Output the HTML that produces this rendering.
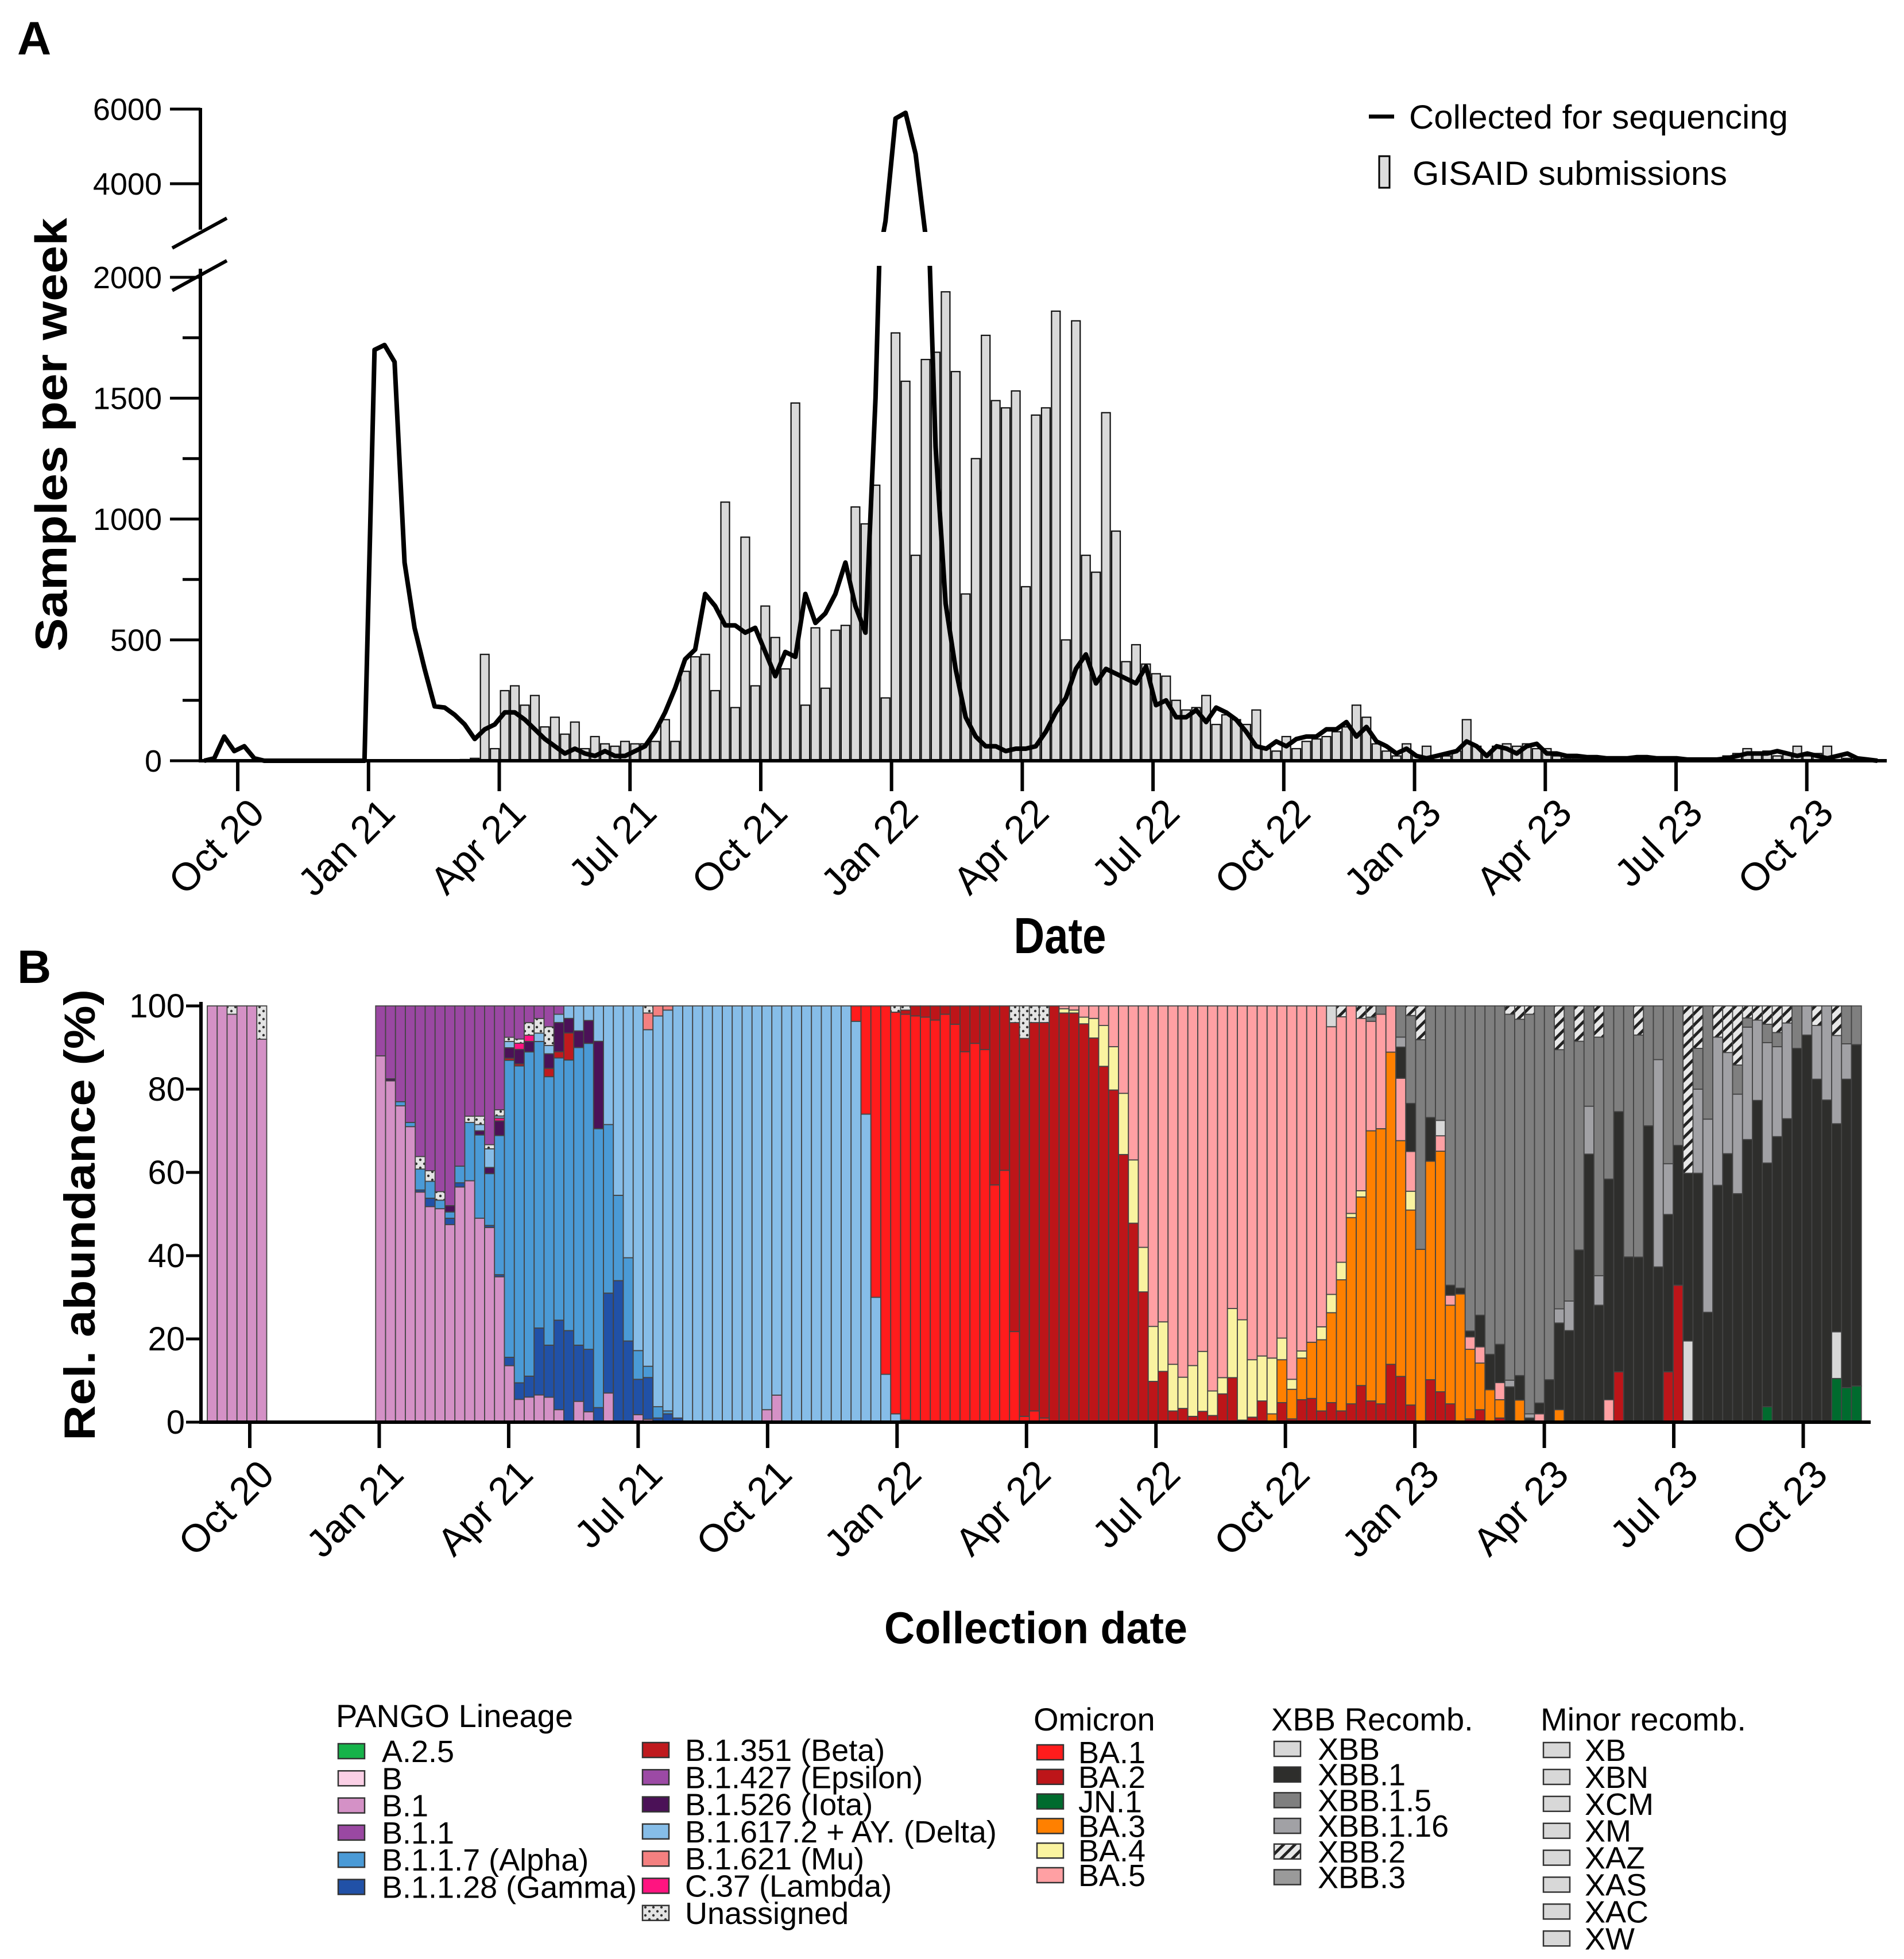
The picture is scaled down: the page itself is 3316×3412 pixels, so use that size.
<!DOCTYPE html>
<html><head><meta charset="utf-8"><style>
html,body{margin:0;padding:0;background:#fff}
svg{display:block;font-family:"Liberation Sans",Arial,sans-serif}
</style></head><body>
<svg id="fig" width="3316" height="3412" viewBox="0 0 3316 3412" xmlns="http://www.w3.org/2000/svg">
<defs>
<pattern id="dots" width="14" height="14" patternUnits="userSpaceOnUse"><rect width="14" height="14" fill="#e4e4e4"/><circle cx="4" cy="4" r="2.2" fill="#333"/><circle cx="11" cy="11" r="2.2" fill="#333"/></pattern>
<pattern id="hatch" width="14" height="14" patternUnits="userSpaceOnUse" patternTransform="rotate(45)"><rect width="14" height="14" fill="#e8e8e8"/><rect width="5" height="14" fill="#222"/></pattern>
<clipPath id="clipLow"><rect x="300" y="463" width="3050" height="900"/></clipPath>
<clipPath id="clipHigh"><rect x="300" y="100" width="3050" height="304"/></clipPath>
</defs>
<text x="30" y="95" font-size="82" font-weight="bold">A</text>
<text x="30" y="1712" font-size="82" font-weight="bold">B</text>
<g id="panelA"></g>
<g id="panelB"></g>
<g id="legendB"></g>
</svg>
<script>
// ---------- Panel A data ----------
const lineCollected = [0,10,100,40,60,10, 0,0,0,0,0,0,0,0,0,0,0,
1700,1720,1650,820,550,380,225,220,190,150,90,130,150,200,200,170,130,90,60,30,50,30,20,40,20,20,40,60,
120,200,300,420,460,690,640,560,560,530,550,450,350,450,430,690,570,610,690,820,
640,530,1500,3000,5750,5900,4800,2600,1300,650,380,180,100,60,60,40,
50,50,60,120,200,260,380,440,320,380,360,340,320,390,230,250,180,180,210,160,
220,200,170,120,60,50,80,60,90,100,100,130,130,160,100,140,80,60,30,50,
20,10,20,30,40,80,60,20,60,50,30,60,70,30,30,20,20,15,15,10,
10,10,15,15,10,10,10,5,5,5,5,10,20,30,30,30,40,30,20,30,20,10,20,30,10,5,0];
const barsGisaid = [0,0,0,0,0,0,0,0,0,0,0,0,0,0,0,0,0,0,0,0,0,0,0,0,0,0,
5,10,440,50,290,310,230,270,140,180,110,160,50,100,70,60,80,70,70,80,170,80,370,430,440,290,
1070,220,925,310,640,510,380,1480,230,550,300,540,560,1050,980,1140,260,1770,1570,850,
1660,1690,1940,1610,690,1250,1760,1490,1460,1530,720,1430,1460,1860,500,1820,850,780,1440,950,
410,480,400,360,350,250,210,220,270,150,190,170,150,210,50,40,100,50,80,90,
100,120,140,230,180,70,40,20,70,20,60,20,20,40,170,60,30,60,70,60,
70,50,50,20,10,10,10,10,10,10,10,10,10,5,5,5,5,5,5,10,20,30,50,30,40,20,30,60,20,30,60,20,10,5,5,0];
const yTicksLowA = [0,500,1000,1500,2000];
const yTicksHighA = [4000,6000];
const xTickLabels = ["Oct 20","Jan 21","Apr 21","Jul 21","Oct 21","Jan 22","Apr 22","Jul 22","Oct 22","Jan 23","Apr 23","Jul 23","Oct 23"];

// ---------- Panel B data (percent per week, start = first week index) ----------
const sB1=0;   const vB1=[100,100,98,100,100,92,0,0,0,0,0,0,0,0,0,0,0,88,82,76,71,55,51,50,47,56.5,58,49,47,35,13.5,5.5,6,6.5,6,3,0,5,2.5,0,7,0,0,1.7,0.7,0,0,0,0,0,0,0,0,0,0,0,3,6.5];
const sGam=21; const vGam=[0.5,2,0,1.5,1,0,0,0.5,0.5,2,4,5,16,12.5,21.5,22,13.5,15,3.5,24,34,19.5,8,10,1,2,1];
const sAlp=19; const vAlp=[1,1,5,4,2,1.5,4,14,20,12.5,33.5,71,76.5,77.5,68.5,64.5,63,65,71.5,73.5,67,40.5,20.5,20,6.5,2.7,2.7,0.7];
const sBet=30; const vBet=[0.5,0.5,0,0,2,1.5,6.5];
const sIot=18; const vIot=[0.5,0,0,0,0,0,1.5,0,0,1,1.5,3.5,2.5,3.5,2.5,0,3.5,7,3.5,4,5.5,21];
const sLam=29; const vLam=[0.7,0,1.5,1.5];
const sDel=27; const vDel=[1.5,4.5,0.5,1.5,0,0,2,2,2,3,6,3.5,8.5,28.5,45.5,60.5,78,80.7,93.5,96,99,100,100,100,100,100,100,100,100,97,93.5,100,100,100,100,100,100,100,96.3,74,30,11.5,2,0.5];
const sMu=43;  const vMu=[0,4,2.4,1];
const sBA1=65; const vBA1=[3.7,26,70,88.5,96.5,97.3,97.6,97.3,96.6,98,95.6,89,91,89.5,57,60.5,21.7,1.4,2.7,1];
const sBA2=70; const vBA2=[1,2.4,2.7,3.4,2,4.4,11,9,10.5,43,39.5,74,90.8,93.2,95,99,98.3,98.3,95.7,92.2,85.4,79.8,64.3,47.8,31.3,9.8,12.2,2.7,3.3,1.4,2.6,1.6,6.8,10.7,0.5,1.2,5.1,0,4.7,0.8,5.4,5.7,2.7,4.7,2.7,4.4,8.8,5.1,4.4,13.9,11,4.1,0,10.2,7.3,4.4,0,0.8,3,0,1,0,0,0,0,0,0,0,0,0,0,0,12.1,0,0,0,0,12.1,32.9];
const sBA3=107; const vBA3=[2,10.3,7.1,10,13.5,17.1,21.6,31.4,44.7,45.3,64.9,66.1,75,56.7,46.6,41.4,52.5,57.8,23.7,30.8,16.7,11.2,7.8,4.4,0,5.3,0,0,0,3];
const sBA4=86; const vBA4=[1,0.7,1.6,4.7,9.8,10.4,14.7,15.2,10.7,13.2,11.9,11.2,7.5,12.2,14.4,5.9,3.9,16.6,24.1,13.8,10.8,13.4,5.2,2.4,1.7,0,3.1,4.4,4.2,1,1.5,0,0,0,0,4.5];
const sBA5=86; const vBA5=[0.7,1,2.7,3,4.7,9.8,21,37,58,77,75.9,86.1,89.2,86.4,83,92.5,89.3,72.7,75.4,85,84.1,84.6,79.8,89.7,82.9,80.8,77.1,64.3,58.8,49.8,41.4,26.3,27.5,11.1,15,9.5,0,0,3.7,2.4,0,3,3.9,0,4.1,0,0,0,2,0,0,0,0,0,0,5.4];
const sJN1=157; const vJN1=[3.7,0,0,0,0,0,0,10.5,8.3,8.7];
const wXBB=[113,124,149,164]; const vXBB=[5,3.7,19.5,11.2];
const sXBB1=120; const vXBB1=[7.5,11.5,0,10.5,0,2.4,1.4,1.4,7.6,8.5,9.2,8.5,5.9,1,2.6,10.2,20.8,22,41.4,64.4,28.1,53,62.5,39.7,39.7,71.2,37.3,37.8,33.6,40.3,59.8,26.4,56.9,64.5,54.9,67.9,77.3,58.5,68.6,72.9,89.8,93,82.4,77.4,50,74.1,82];
const sX116=120; const vX116=[2.4,0,0,0,0,0,0,0,0,0,0,1.6,0,1,0,0,3.4,7.1,0,11.5,7.1,0,0,0,0,0,49.8,12.2,0,0,20.2,46.4,35.6,24.3,23.9,27,19.3,28.9,21.6,23,0,7,12.9,22.6,21.2,8.5,0];
const sX15=117; const vX15=[1,2,0,7.5,21,50.2,26.8,27.5,67.1,67.8,78.1,74.3,83.7,81.3,88,85.6,96,95.4,89.8,62.2,70.9,50.2,24.1,57.3,41.6,25.4,60.3,53.4,28.8,12.9,37.9,33.5,0,9.8,27.2,0,0,7,2.2,0,4.4,3.4,0,10.2,0,0,0,0,9.1,9.3];
const sX2=114; const vX2=[2.6,0,3,2.7,0,0,0,2.3,8.1,0,0,0,0,0,0,0,0,2,3.2,2,0,0,10.5,0,8.5,0,7.5,0,0,0,7,0,0,0,0,40.2,10.2,0,7.5,11.2,14.2,2.9,3.4,4.4,6.4,4.1,0,0,4.7,0,7.1];
const wUna=[2,5,21,22,23,26,27,28,29,30,31,32,33,34,44,69,70,81,82,83,84]; const vUna=[2,8,3,2.5,2,1.5,2,1,1.5,1,1,3,3.5,4.5,1.7,1.5,1,4,7.8,4,4];
const sB11=17; const vB11=[12,17.5,23,28,36,39,43.5,47.5,38.5,26.5,26.5,33.5,25,7.5,8,4,3,5,2];
const yTicksB = [0,20,40,60,80,100];

const NS="http://www.w3.org/2000/svg";
function mk(tag, attrs, parent, txt){const e=document.createElementNS(NS,tag);for(const k in attrs)e.setAttribute(k,attrs[k]);if(txt!==undefined)e.textContent=txt;parent.appendChild(e);return e;}
const A=document.getElementById('panelA'), Bp=document.getElementById('panelB'), L=document.getElementById('legendB');

// ---------- Panel A scales ----------
const xA=i=>355.6+17.45*i;
const yLow=v=>1325-v*0.421;
const yHigh=v=>320-(v-4000)*0.065;

barsGisaid.forEach((v,i)=>{ if(v<=0) return;
  const r=mk('rect',{x:xA(i)-7.5,y:yLow(v),width:15,height:v*0.421,fill:'#d9d9d9',stroke:'#111','stroke-width':2.2},A);
  
  
});
let dLow='',dHigh='';
lineCollected.forEach((v,i)=>{dLow+=(i?'L':'M')+xA(i).toFixed(1)+' '+yLow(v).toFixed(1);dHigh+=(i?'L':'M')+xA(i).toFixed(1)+' '+yHigh(v).toFixed(1);});
const pl=mk('path',{d:dLow,fill:'none',stroke:'#000','stroke-width':8,'stroke-linejoin':'round','clip-path':'url(#clipLow)'},A);


const ph=mk('path',{d:dHigh,fill:'none',stroke:'#000','stroke-width':8,'stroke-linejoin':'round','clip-path':'url(#clipHigh)'},A);



const ax=mk('g',{},A);  
mk('line',{x1:349,y1:188,x2:349,y2:400,stroke:'#000','stroke-width':6},ax);
mk('line',{x1:349,y1:468,x2:349,y2:1328,stroke:'#000','stroke-width':6},ax);
mk('line',{x1:300,y1:432,x2:395,y2:380,stroke:'#000','stroke-width':6},ax);
mk('line',{x1:300,y1:506,x2:395,y2:454,stroke:'#000','stroke-width':6},ax);
for(let v=250;v<2000;v+=500){mk('line',{x1:318,y1:yLow(v),x2:349,y2:yLow(v),stroke:'#000','stroke-width':5},ax);}
yTicksLowA.forEach(v=>{mk('line',{x1:296,y1:yLow(v),x2:349,y2:yLow(v),stroke:'#000','stroke-width':5},ax);
  const t=mk('text',{x:282,y:yLow(v)+19,'font-size':54,'text-anchor':'end'},ax,String(v));  });
yTicksHighA.forEach(v=>{mk('line',{x1:296,y1:yHigh(v),x2:349,y2:yHigh(v),stroke:'#000','stroke-width':5},ax);
  const t=mk('text',{x:282,y:yHigh(v)+19,'font-size':54,'text-anchor':'end'},ax,String(v));  });
const yt=mk('text',{transform:'translate(116,757) rotate(-90)','font-size':78,'font-weight':'bold','text-anchor':'middle',textLength:755,lengthAdjust:'spacingAndGlyphs'},A,'Samples per week');
 

const xa=mk('g',{},A);  
mk('line',{x1:346,y1:1325,x2:3286,y2:1325,stroke:'#000','stroke-width':6},xa);
xTickLabels.forEach((lab,k)=>{const x=xA(3.35+13.05*k);
  mk('line',{x1:x,y1:1325,x2:x,y2:1378,stroke:'#000','stroke-width':6},xa);
  const t=mk('text',{transform:`translate(${x+50},${1420}) rotate(-45)`,'font-size':68,'text-anchor':'end'},xa,lab);
   });
const xt=mk('text',{x:1846,y:1660,'font-size':88,'font-weight':'bold','text-anchor':'middle',textLength:161,lengthAdjust:'spacingAndGlyphs'},A,'Date');
 

const la=mk('g',{},A);  
mk('line',{x1:2384,y1:203,x2:2428,y2:203,stroke:'#000','stroke-width':7},la);
const l1=mk('text',{x:2454,y:224,'font-size':58,textLength:660,lengthAdjust:'spacingAndGlyphs'},la,'Collected for sequencing');
 
mk('rect',{x:2402,y:272,width:18,height:55,fill:'#ddd',stroke:'#000','stroke-width':3},la);
const l2=mk('text',{x:2460,y:322,'font-size':58,textLength:548,lengthAdjust:'spacingAndGlyphs'},la,'GISAID submissions');
 

// ---------- Panel B ----------
const xB=j=>361+17.25*j;
const yB=p=>2477-p*7.25;
const series=[
 {n:'B.1',c:'#d491c6',s:sB1,v:vB1},{n:'Gamma',c:'#2151a7',s:sGam,v:vGam},{n:'Alpha',c:'#4a9ad6',s:sAlp,v:vAlp},
 {n:'Beta',c:'#bf1a1e',s:sBet,v:vBet},{n:'Iota',c:'#4b1157',s:sIot,v:vIot},{n:'Lambda',c:'#ff1480',s:sLam,v:vLam},
 {n:'Delta',c:'#86bde8',s:sDel,v:vDel},{n:'Mu',c:'#f48080',s:sMu,v:vMu},{n:'BA.1',c:'#ff1c1c',s:sBA1,v:vBA1},
 {n:'BA.2',c:'#bd1519',s:sBA2,v:vBA2},{n:'BA.3',c:'#ff8000',s:sBA3,v:vBA3},{n:'BA.4',c:'#faf3a0',s:sBA4,v:vBA4},
 {n:'BA.5',c:'#ffa0a3',s:sBA5,v:vBA5},{n:'JN.1',c:'#006b2e',s:sJN1,v:vJN1},{n:'XBB',c:'#d8d8d8',w:wXBB,v:vXBB},
 {n:'XBB.1',c:'#2e2e2c',s:sXBB1,v:vXBB1},{n:'XBB.1.16',c:'#a1a1a5',s:sX116,v:vX116},{n:'XBB.1.5',c:'#7f7f7f',s:sX15,v:vX15},
 {n:'XBB.2',c:'url(#hatch)',s:sX2,v:vX2},{n:'Unassigned',c:'url(#dots)',w:wUna,v:vUna},{n:'B.1.1',c:'#9a48a2',s:sB11,v:vB11}];
function val(se,j){ if(se.w){const k=se.w.indexOf(j);return k<0?0:se.v[k];} const k=j-se.s; return (k>=0&&k<se.v.length)?se.v[k]:0; }
for(let j=0;j<167;j++){
  const vals=series.map(se=>val(se,j)); const tot=vals.reduce((a,b)=>a+b,0); if(tot<=0) continue;
  let cum=0;
  vals.forEach((v,k)=>{ if(v<=0) return; const p=v*100/tot;
    const r=mk('rect',{x:xB(j),y:yB(cum+p),width:17.25,height:p*7.25,fill:series[k].c,stroke:'#444','stroke-width':1.8},Bp);
    
    
    cum+=p;});
}
const bx=mk('g',{},Bp);  
mk('line',{x1:350,y1:1745,x2:350,y2:2480,stroke:'#000','stroke-width':6},bx);
mk('line',{x1:347,y1:2477,x2:3258,y2:2477,stroke:'#000','stroke-width':6},bx);
yTicksB.forEach(v=>{mk('line',{x1:324,y1:yB(v),x2:350,y2:yB(v),stroke:'#000','stroke-width':5},bx);
  const t=mk('text',{x:322,y:yB(v)+20,'font-size':58,'text-anchor':'end'},bx,String(v));  });
xTickLabels.forEach((lab,k)=>{const x=xB(4.29+13.07*k);
  mk('line',{x1:x,y1:2477,x2:x,y2:2522,stroke:'#000','stroke-width':6},bx);
  const t=mk('text',{transform:`translate(${x+46},${2572}) rotate(-45)`,'font-size':68,'text-anchor':'end'},bx,lab);
   });
const ybt=mk('text',{transform:'translate(165,2116) rotate(-90)','font-size':76,'font-weight':'bold','text-anchor':'middle',textLength:786,lengthAdjust:'spacingAndGlyphs'},Bp,'Rel. abundance (%)');
 
const xbt=mk('text',{x:1804,y:2862,'font-size':78,'font-weight':'bold','text-anchor':'middle',textLength:528,lengthAdjust:'spacingAndGlyphs'},Bp,'Collection date');
 

// ---------- Legend B ----------
const legendCols=[
 {title:'PANGO Lineage',tx:585,ty:3008,sx:589,lx:665,y0:3050,dy:47.3,items:[['A.2.5','#16b34a'],['B','#fbd0e6'],['B.1','#d491c6'],['B.1.1','#9a48a2'],['B.1.1.7 (Alpha)','#4a9ad6'],['B.1.1.28 (Gamma)','#2151a7']]},
 {title:null,sx:1119,lx:1193,y0:3048,dy:47.3,items:[['B.1.351 (Beta)','#bf1a1e'],['B.1.427 (Epsilon)','#9c4aa5'],['B.1.526 (Iota)','#4b1157'],['B.1.617.2 + AY. (Delta)','#86bde8'],['B.1.621 (Mu)','#f48080'],['C.37 (Lambda)','#ff1480'],['Unassigned','url(#dots)']]},
 {title:'Omicron',tx:1800,ty:3014,sx:1806,lx:1878,y0:3052,dy:42.8,items:[['BA.1','#ff1c1c'],['BA.2','#bd1519'],['JN.1','#006b2e'],['BA.3','#ff8000'],['BA.4','#faf3a0'],['BA.5','#ffa0a3']]},
 {title:'XBB Recomb.',tx:2214,ty:3014,sx:2219,lx:2295,y0:3046,dy:44.7,items:[['XBB','#d8d8d8'],['XBB.1','#2e2e2c'],['XBB.1.5','#7f7f7f'],['XBB.1.16','#a1a1a5'],['XBB.2','url(#hatch)'],['XBB.3','#9a9a9a']]},
 {title:'Minor recomb.',tx:2683,ty:3014,sx:2688,lx:2760,y0:3048,dy:46.9,items:[['XB','#d8d8d8'],['XBN','#d8d8d8'],['XCM','#d8d8d8'],['XM','#d8d8d8'],['XAZ','#d8d8d8'],['XAS','#d8d8d8'],['XAC','#d8d8d8'],['XW','#d8d8d8']]}];
legendCols.forEach(col=>{
  if(col.title){const t=mk('text',{x:col.tx,y:col.ty,'font-size':56},L,col.title);  }
  col.items.forEach((it,k)=>{const cy=col.y0+k*col.dy;
    const g=mk('g',{},L);
    
    
    mk('rect',{x:col.sx,y:cy-13,width:46,height:26,fill:it[1],stroke:'#333','stroke-width':2.5},g);
    mk('text',{x:col.lx,y:cy+19,'font-size':54},g,it[0]);});
});
</script>
</body></html>
